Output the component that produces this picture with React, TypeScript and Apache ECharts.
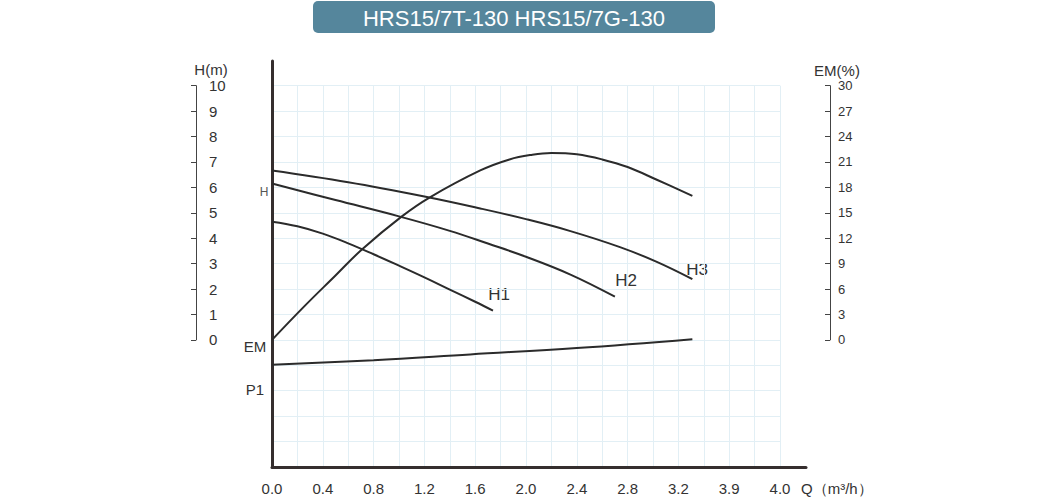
import React, { useEffect, useRef } from "react";
import * as echarts from "echarts";

// ---- data ----
const titleText = "HRS15/7T-130 HRS15/7G-130";
const qTickLabels = ["0.0", "0.4", "0.8", "1.2", "1.6", "2.0", "2.4", "2.8", "3.2", "3.9", "4.0"];
const headScaleMax = 10; // H(m) scale 0..10 step 1
const emScaleMax = 30; // EM(%) scale 0..30 step 3

// Q (m3/h), H (m)
const h1Curve: [number, number][] = [
  [0, 4.65], [0.2, 4.47], [0.4, 4.18], [0.6, 3.8], [0.8, 3.37], [1.0, 2.92], [1.2, 2.46], [1.4, 1.98], [1.6, 1.5], [1.74, 1.15],
];
const h2Curve: [number, number][] = [
  [0, 6.15], [0.5, 5.5], [1.0, 4.86], [1.4, 4.29], [1.7, 3.79], [2.0, 3.27], [2.35, 2.57], [2.7, 1.7],
];
const h3Curve: [number, number][] = [
  [0, 6.66], [0.6, 6.2], [1.2, 5.64], [1.64, 5.17], [2.0, 4.75], [2.35, 4.28], [2.74, 3.65], [3.03, 3.07], [3.31, 2.39],
];
// Q (m3/h), EM (%)
const emCurve: [number, number][] = [
  [0, 0], [0.25, 3.9], [0.5, 7.6], [0.71, 10.7], [1.02, 14.55], [1.24, 16.8], [1.64, 20.0], [1.87, 21.3], [2.05, 21.85], [2.2, 22.05], [2.4, 21.9], [2.6, 21.3], [2.8, 20.4], [3.03, 18.9], [3.31, 17.0],
];
// P1 drawn in head-axis units (no scale of its own)
const p1Curve: [number, number][] = [
  [0, -0.98], [0.8, -0.8], [1.56, -0.57], [2.4, -0.32], [3.31, 0.03],
];

const FONT = "'Liberation Sans', Arial, sans-serif";
const TXT = "#333333";
const GRIDC = "#e2eff5";
const CURVE = "#2b2b2b";
const AXISC = "#352e2e";

export default function App() {
  const ref = useRef<HTMLDivElement>(null);
  useEffect(() => {
    if (!ref.current) return;
    const chart = echarts.init(ref.current, undefined, { renderer: "svg" });
    const curveSeries = (name: string, data: [number, number][], yAxisIndex: number) => ({
      name,
      type: "line",
      xAxisIndex: 0,
      yAxisIndex,
      data,
      smooth: 0.4,
      showSymbol: false,
      symbol: "none",
      lineStyle: { color: CURVE, width: 2 },
      silent: true,
    });
    const label = (text: string, x: number, y: number, size: number, fill = TXT, align = "center") => ({
      type: "text",
      x,
      y,
      style: { text, fill, font: `${size}px ${FONT}`, textAlign: align, textVerticalAlign: "middle" },
    });
    chart.setOption({
      animation: false,
      textStyle: { fontFamily: FONT },
      grid: [
        { left: 272, top: 85.7, width: 508, height: 381.3 },
        { left: 272, top: 61, width: 534, height: 406 },
        { left: 196, top: 85.7, width: 634, height: 254.2 },
      ],
      xAxis: [
        {
          gridIndex: 0,
          type: "value",
          min: 0,
          max: 4,
          interval: 0.2,
          axisLine: { show: false },
          axisTick: { show: false },
          splitLine: { show: true, lineStyle: { color: GRIDC, width: 1 } },
          axisLabel: {
            margin: 14,
            color: TXT,
            fontSize: 15,
            fontFamily: FONT,
            formatter: (v: number) => {
              const k = Math.round(v / 0.2);
              if (k % 2 !== 0) return "";
              return qTickLabels[k / 2] ?? "";
            },
          },
        },
        {
          gridIndex: 1,
          type: "value",
          min: 0,
          max: 1,
          axisLine: { show: true, lineStyle: { color: AXISC, width: 3 } },
          axisTick: { show: false },
          axisLabel: { show: false },
          splitLine: { show: false },
        },
        { gridIndex: 2, type: "value", min: 0, max: 1, show: false },
      ],
      yAxis: [
        {
          gridIndex: 0,
          type: "value",
          min: -5,
          max: 10,
          interval: 1,
          axisLine: { show: false },
          axisTick: { show: false },
          axisLabel: { show: false },
          splitLine: { show: true, lineStyle: { color: GRIDC, width: 1 } },
        },
        { gridIndex: 0, type: "value", min: -15, max: 30, show: false },
        {
          gridIndex: 1,
          type: "value",
          min: 0,
          max: 1,
          axisLine: { show: true, lineStyle: { color: AXISC, width: 3 } },
          axisTick: { show: false },
          axisLabel: { show: false },
          splitLine: { show: false },
        },
        {
          gridIndex: 2,
          type: "value",
          position: "left",
          min: 0,
          max: headScaleMax,
          interval: 1,
          axisLine: { show: true, onZero: false, lineStyle: { color: "#444", width: 1 } },
          axisTick: { show: true, inside: false, length: 5, lineStyle: { color: "#444" } },
          axisLabel: { inside: true, margin: 13, color: TXT, fontSize: 15, fontFamily: FONT },
          splitLine: { show: false },
        },
        {
          gridIndex: 2,
          type: "value",
          position: "right",
          min: 0,
          max: emScaleMax,
          interval: 3,
          axisLine: { show: true, onZero: false, lineStyle: { color: "#444", width: 1 } },
          axisTick: { show: true, inside: true, length: 5, lineStyle: { color: "#444" } },
          axisLabel: { margin: 8, color: TXT, fontSize: 13, fontFamily: FONT },
          splitLine: { show: false },
        },
      ],
      series: [
        curveSeries("H1", h1Curve, 0),
        curveSeries("H2", h2Curve, 0),
        curveSeries("H3", h3Curve, 0),
        curveSeries("EM", emCurve, 1),
        curveSeries("P1", p1Curve, 0),
      ],
      graphic: [
        {
          type: "rect",
          shape: { x: 313, y: 1, width: 402, height: 32, r: 5 },
          style: { fill: "#55869c" },
        },
        label(titleText, 514, 18, 22, "#ffffff"),
        label("H(m)", 211, 69, 15),
        label("EM(%)", 837, 70, 15),
        label("H1", 499, 294, 17),
        label("H2", 626, 280, 17),
        label("H3", 697, 269, 17),
        label("EM", 255, 346, 15),
        label("P1", 255, 389, 15),
        label("H", 264, 191.5, 12, "#555"),
        label("Q（m³/h）", 801, 488, 15, TXT, "left"),
      ],
    });
    return () => chart.dispose();
  }, []);
  return (
    <div
      ref={ref}
      style={{ position: "fixed", left: 0, top: 0, width: 1060, height: 500, background: "#ffffff" }}
    />
  );
}
